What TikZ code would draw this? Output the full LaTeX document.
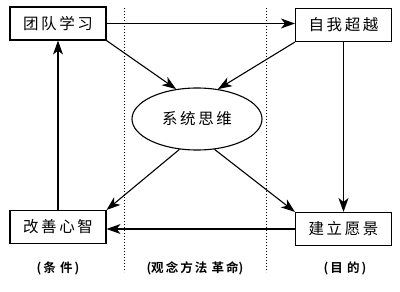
\documentclass[tikz,border=0pt]{standalone}
\usepackage{fontspec}
\newfontfamily\cjk{Noto Sans CJK SC}
\newfontfamily\cjkb{Noto Sans CJK SC Bold}
\usetikzlibrary{arrows.meta,shapes.geometric}
\begin{document}
\begin{tikzpicture}[x=1pt,y=-1pt,
  boxn/.style={draw,line width=1.1pt,minimum width=96pt,minimum height=33pt,inner sep=0pt,font=\cjk\fontsize{15.5}{15.5}\selectfont},
  conn/.style={line width=1.1pt,-{Stealth[length=14pt,width=10pt,inset=4pt]}},
  lbl/.style={font=\cjkb\fontsize{12.5}{12.5}\selectfont},
  sep/.style={dotted,line width=1pt}]
\useasboundingbox (0,0) rectangle (400,292);
\node[boxn] (A) at (58,23.5) {团\,队\,学\,习};
\node[boxn] (B) at (343.5,25) {自\,我\,超\,越};
\node[boxn] (C) at (58,227) {改\,善\,心\,智};
\node[boxn] (D) at (343.5,229) {建\,立\,愿\,景};
\node[ellipse,draw,line width=1.1pt,minimum width=130pt,minimum height=62pt,inner sep=0pt,font=\cjk\fontsize{15.5}{15.5}\selectfont] (E) at (197,119) {系\,统\,思\,维};
\coordinate (t1) at (124,8);
\coordinate (b1) at (124,272);
\coordinate (t2) at (266,8);
\coordinate (b2) at (266,272);
\draw[sep] (t1) -- (b1);
\draw[sep] (t2) -- (b2);
\draw[conn] (A.east) -- (B.west |- A.east);
\draw[conn] (A.south east) -- (E.125);
\draw[conn] (B.south west) -- (E.55);
\draw[conn] (B.south) -- (D.north);
\draw[conn] (E.300) -- (D.north west);
\draw[conn] (E.240) -- (C.north east);
\draw[conn] (D.west) -- (C.east |- D.west);
\draw[conn] (C.north) -- (A.south);
\node[lbl] (L1) at (58,268) {(\,条\,\,件\,)};
\node[lbl] (L2) at (195,268) {(观\,念\,方\,法\,\,革\,命)};
\node[lbl] (L3) at (345,268) {(\,目\,\,的\,)};
\end{tikzpicture}
\end{document}
